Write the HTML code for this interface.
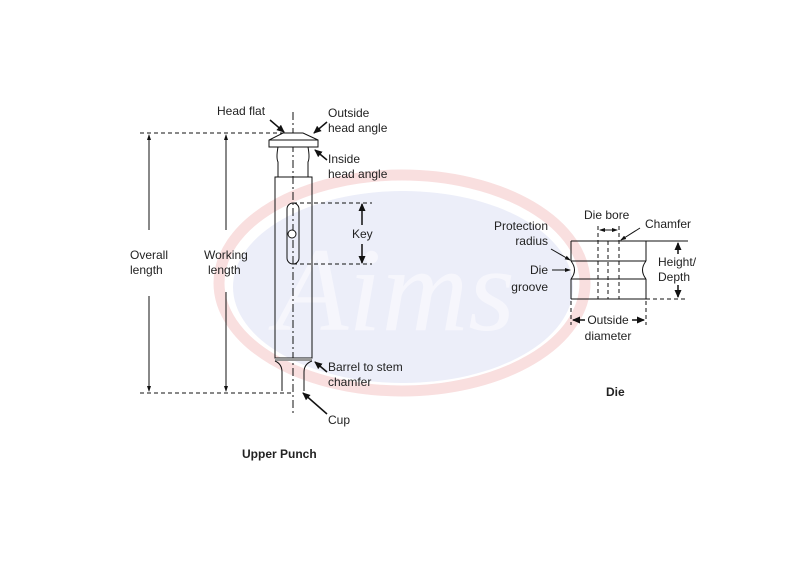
<!DOCTYPE html>
<html><head><meta charset="utf-8"><style>
html,body{margin:0;padding:0;background:#fff;}
svg{display:block;font-family:"Liberation Sans",Arial,sans-serif;}
</style></head><body>
<svg width="800" height="571" viewBox="0 0 800 571" xmlns="http://www.w3.org/2000/svg">
<defs>
<marker id="ah" markerWidth="8" markerHeight="8" refX="7" refY="4" orient="auto" markerUnits="userSpaceOnUse"><path d="M0,0.5 L8,4 L0,7.5 Z" fill="#111"/></marker>
<marker id="as" markerWidth="6" markerHeight="6" refX="5" refY="3" orient="auto" markerUnits="userSpaceOnUse"><path d="M0,1 L6,3 L0,5 Z" fill="#111"/></marker>
</defs>
<!-- watermark -->
<ellipse cx="402" cy="283" rx="183" ry="108" fill="none" stroke="#f9dfdf" stroke-width="11"/>
<ellipse cx="403" cy="287" rx="170" ry="96" fill="#eceef9"/>
<text x="395" y="330" font-family="Liberation Serif,serif" font-style="italic" font-size="120" fill="#f6f6fc" text-anchor="middle">Aims</text>

<g stroke="#111" stroke-width="1" fill="none">
<line x1="293" y1="112" x2="293" y2="415" stroke-dasharray="8,3,2,3"/>
<path d="M283,133 L303,133 L318,140 L318,147 L269,147 L269,140 Z" fill="#fff"/>
<line x1="269" y1="140" x2="318" y2="140"/>
<path d="M278,147 Q276,158 278,162 L278,177 M308,147 Q310,158 308,162 L308,177"/>
<rect x="275" y="177" width="37" height="181" fill="none"/>
<rect x="275" y="358" width="37" height="3" fill="#999" stroke="none"/>
<path d="M275,361 Q282,364 282,372 L282,391 M312,361 Q304,364 304,372 L304,391"/>
<rect x="287" y="203" width="12" height="61" rx="6" fill="none"/>
<circle cx="292" cy="234" r="4" fill="#fff"/>
<line x1="140" y1="133" x2="283" y2="133" stroke-dasharray="4,3"/>
<line x1="140" y1="393" x2="292" y2="393" stroke-dasharray="4,3"/>
<line x1="293" y1="203" x2="372" y2="203" stroke-dasharray="4,3"/>
<line x1="293" y1="264" x2="372" y2="264" stroke-dasharray="4,3"/>
<line x1="149" y1="230" x2="149" y2="135" marker-end="url(#as)"/>
<line x1="149" y1="296" x2="149" y2="391" marker-end="url(#as)"/>
<line x1="226" y1="230" x2="226" y2="135" marker-end="url(#as)"/>
<line x1="226" y1="292" x2="226" y2="391" marker-end="url(#as)"/>
<line x1="362" y1="225" x2="362" y2="204" stroke-width="1.5" marker-end="url(#ah)"/>
<line x1="362" y1="244" x2="362" y2="263" stroke-width="1.5" marker-end="url(#ah)"/>
<line x1="270" y1="120" x2="284" y2="132" stroke-width="1.5" marker-end="url(#ah)"/>
<line x1="327" y1="122" x2="314" y2="133" stroke-width="1.5" marker-end="url(#ah)"/>
<line x1="327" y1="160" x2="315" y2="150" stroke-width="1.5" marker-end="url(#ah)"/>
<line x1="327" y1="372" x2="315" y2="362" stroke-width="1.5" marker-end="url(#ah)"/>
<line x1="327" y1="414" x2="303" y2="393" stroke-width="1.5" marker-end="url(#ah)"/>
<!-- die -->
<line x1="571" y1="241" x2="688" y2="241"/>
<line x1="571" y1="241" x2="571" y2="261"/>
<line x1="571" y1="279" x2="571" y2="299"/>
<line x1="646" y1="241" x2="646" y2="261"/>
<line x1="646" y1="279" x2="646" y2="299"/>
<line x1="571" y1="299" x2="646" y2="299"/>
<line x1="646" y1="299" x2="688" y2="299" stroke-dasharray="4,3"/>
<line x1="571" y1="261" x2="646" y2="261"/>
<line x1="571" y1="279" x2="646" y2="279"/>
<path d="M571,261 Q578,270 571,279 M646,261 Q639,270 646,279"/>
<line x1="598" y1="226" x2="598" y2="299" stroke-dasharray="4,3"/>
<line x1="619" y1="226" x2="619" y2="299" stroke-dasharray="4,3"/>
<line x1="608" y1="241" x2="608" y2="299" stroke-dasharray="4,3"/>
<line x1="608" y1="230" x2="600" y2="230" marker-end="url(#as)"/>
<line x1="608" y1="230" x2="617" y2="230" marker-end="url(#as)"/>
<line x1="640" y1="228" x2="621" y2="240" marker-end="url(#as)"/>
<line x1="551" y1="249" x2="570" y2="260" marker-end="url(#as)"/>
<line x1="552" y1="270" x2="570" y2="270" marker-end="url(#as)"/>
<line x1="678" y1="254" x2="678" y2="243" stroke-width="1.5" marker-end="url(#ah)"/>
<line x1="678" y1="285" x2="678" y2="297" stroke-width="1.5" marker-end="url(#ah)"/>
<line x1="571" y1="301" x2="571" y2="325" stroke-dasharray="4,3"/>
<line x1="646" y1="301" x2="646" y2="325" stroke-dasharray="4,3"/>
<line x1="585" y1="320" x2="573" y2="320" stroke-width="1.5" marker-end="url(#ah)"/>
<line x1="632" y1="320" x2="644" y2="320" stroke-width="1.5" marker-end="url(#ah)"/>
</g>

<g font-size="12" fill="#222">
<text x="217" y="115">Head flat</text>
<text x="328" y="117">Outside</text>
<text x="328" y="132">head angle</text>
<text x="328" y="163">Inside</text>
<text x="328" y="178">head angle</text>
<text x="352" y="238">Key</text>
<text x="130" y="259">Overall</text>
<text x="130" y="274">length</text>
<text x="204" y="259">Working</text>
<text x="208" y="274">length</text>
<text x="328" y="371">Barrel to stem</text>
<text x="328" y="386">chamfer</text>
<text x="328" y="424">Cup</text>
<text x="584" y="219">Die bore</text>
<text x="645" y="228">Chamfer</text>
<text x="548" y="230" text-anchor="end">Protection</text>
<text x="548" y="245" text-anchor="end">radius</text>
<text x="548" y="274" text-anchor="end">Die</text>
<text x="548" y="291" text-anchor="end">groove</text>
<text x="658" y="266">Height/</text>
<text x="658" y="281">Depth</text>
<text x="608" y="324" text-anchor="middle">Outside</text>
<text x="608" y="340" text-anchor="middle">diameter</text>
<text x="242" y="458" font-weight="bold">Upper Punch</text>
<text x="606" y="396" font-weight="bold">Die</text>
</g>
</svg>
</body></html>
